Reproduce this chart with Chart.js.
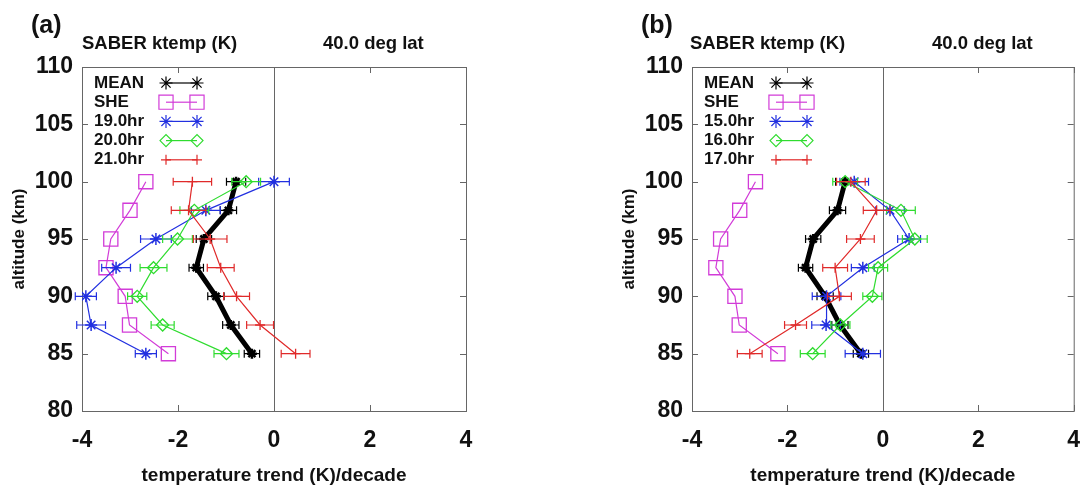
<!DOCTYPE html>
<html>
<head>
<meta charset="utf-8">
<script src="https://cdn.jsdelivr.net/npm/chart.js@4/dist/chart.umd.min.js"></script>
<style>
  body { margin: 0; background: #fff; }
  #wrap { position: relative; width: 1085px; height: 487px; overflow: hidden; font-family: "Liberation Sans", Arial, sans-serif; font-weight: bold; color: #111; }
  canvas { position: absolute; top: 0; }
  .lbl { position: absolute; white-space: nowrap; line-height: 1; }
</style>
</head>
<body>
<div id="wrap">
  <canvas id="chartA" width="540" height="487" style="left:0px"></canvas>
  <canvas id="chartB" width="475" height="487" style="left:610px"></canvas>
  <div class="lbl" style="left:31px;top:12px;font-size:25px">(a)</div>
  <div class="lbl" style="left:82px;top:34px;font-size:18.5px">SABER ktemp (K)</div>
  <div class="lbl" style="left:323px;top:34px;font-size:18.5px">40.0 deg lat</div>
  <div class="lbl" style="left:641px;top:12px;font-size:25px">(b)</div>
  <div class="lbl" style="left:690px;top:34px;font-size:18.5px">SABER ktemp (K)</div>
  <div class="lbl" style="left:932px;top:34px;font-size:18.5px">40.0 deg lat</div>
</div>
<script>
//============================== DATA ===========================
const altitudes = [85, 87.5, 90, 92.5, 95, 97.5, 100];
const yTicks = [80, 85, 90, 95, 100, 105, 110];
const xTicks = [-4, -2, 0, 2, 4];

const meanTrend = [-0.46, -0.90, -1.21, -1.62, -1.46, -0.95, -0.79];
const meanErr = [0.16, 0.17, 0.17, 0.15, 0.16, 0.17, 0.2];
const sheTrend = [-2.2, -3.01, -3.1, -3.5, -3.4, -3.0, -2.67];

// panel (a)
const hr19 = [-2.67, -3.81, -3.92, -3.29, -2.46, -1.42, 0.0];
const hr19Err = [0.22, 0.3, 0.22, 0.3, 0.32, 0.3, 0.32];
const hr20 = [-0.99, -2.32, -2.85, -2.51, -2.01, -1.66, -0.58];
const hr20Err = [0.26, 0.24, 0.2, 0.28, 0.31, 0.3, 0.3];
const hr21 = [0.45, -0.29, -0.78, -1.11, -1.33, -1.78, -1.70];
const hr21Err = [0.3, 0.28, 0.27, 0.28, 0.35, 0.36, 0.4];

// panel (b)
const hr15 = [-0.42, -1.19, -1.18, -0.42, 0.55, 0.15, -0.6];
const hr15Err = [0.37, 0.3, 0.3, 0.24, 0.24, 0.3, 0.3];
const hr16 = [-1.47, -0.89, -0.22, -0.10, 0.67, 0.38, -0.79];
const hr16Err = [0.26, 0.2, 0.2, 0.2, 0.26, 0.3, 0.26];
const hr17 = [-2.79, -1.83, -0.91, -1.0, -0.47, -0.13, -0.67];
const hr17Err = [0.26, 0.23, 0.25, 0.26, 0.29, 0.28, 0.3];

const MAGENTA = "#d23cd8";
const BLUE = "#2230e0";
const GREEN = "#2fdc2f";
const RED = "#e02a2a";
const FONT = "'Liberation Sans', Arial, sans-serif";

function pts(vals) {
    return vals.map((v, i) => ({ x: v, y: altitudes[i] }));
}

function makeSet(label, vals, err, color, style, radius, width, order, pbw) {
    return {
        label: label,
        data: pts(vals),
        errors: err,
        borderColor: color,
        backgroundColor: style == "rect" || style == "rectRot" ? "rgba(0,0,0,0)" : color,
        borderWidth: width,
        pointStyle: style,
        pointRadius: radius,
        pointBorderWidth: pbw || 1.3,
        pointBorderColor: color,
        showLine: true,
        tension: 0,
        order: order,
    };
}

//============================== PLUGINS ===========================
const errorBars = {
    id: "errorBars",
    afterDatasetDraw(chart, args) {
        const ds = chart.data.datasets[args.index];
        if (!ds.errors) return;
        const ctx = chart.ctx, xs = chart.scales.x, ys = chart.scales.y;
        ctx.save();
        ctx.strokeStyle = ds.borderColor;
        ctx.lineWidth = 1.2;
        ds.data.forEach((p, i) => {
            const y = ys.getPixelForValue(p.y);
            const x1 = xs.getPixelForValue(p.x - ds.errors[i]);
            const x2 = xs.getPixelForValue(p.x + ds.errors[i]);
            ctx.beginPath();
            ctx.moveTo(x1, y); ctx.lineTo(x2, y);
            ctx.moveTo(x1, y - 4); ctx.lineTo(x1, y + 4);
            ctx.moveTo(x2, y - 4); ctx.lineTo(x2, y + 4);
            ctx.stroke();
        });
        ctx.restore();
    }
};

const frame = {
    id: "frame",
    beforeDatasetsDraw(chart) {
        const ctx = chart.ctx, a = chart.chartArea;
        const xs = chart.scales.x, ys = chart.scales.y;
        ctx.save();
        ctx.strokeStyle = "#666";
        ctx.lineWidth = 1;
        ctx.strokeRect(a.left + 0.5, a.top + 0.5, a.right - a.left, a.bottom - a.top);
        ctx.beginPath();
        // zero line
        const x0 = Math.round(xs.getPixelForValue(0)) + 0.5;
        ctx.moveTo(x0, a.top); ctx.lineTo(x0, a.bottom);
        // inward ticks
        xTicks.forEach(v => {
            const x = Math.round(xs.getPixelForValue(v)) + 0.5;
            ctx.moveTo(x, a.bottom); ctx.lineTo(x, a.bottom - 6);
            ctx.moveTo(x, a.top); ctx.lineTo(x, a.top + 6);
        });
        yTicks.forEach(v => {
            const y = Math.round(ys.getPixelForValue(v)) + 0.5;
            ctx.moveTo(a.left, y); ctx.lineTo(a.left + 6, y);
            ctx.moveTo(a.right, y); ctx.lineTo(a.right - 6, y);
        });
        ctx.stroke();
        ctx.restore();
    },
    afterDraw(chart) {
        // gnuplot style key
        const ctx = chart.ctx, a = chart.chartArea;
        ctx.save();
        chart.data.datasets.forEach((ds, i) => {
            const y = a.top + 16 + i * 19.2;
            ctx.fillStyle = "#111";
            ctx.font = "bold 17px " + FONT;
            ctx.textBaseline = "middle";
            ctx.textAlign = "left";
            ctx.fillText(ds.label, a.left + 12, y);
            ctx.strokeStyle = ds.borderColor;
            ctx.lineWidth = 1.2;
            ctx.beginPath();
            ctx.moveTo(a.left + 84, y); ctx.lineTo(a.left + 115, y);
            ctx.stroke();
            const opts = {
                pointStyle: ds.pointStyle,
                radius: ds.pointStyle == "star" ? 6.5 : ds.pointRadius,
                rotation: 0,
                borderWidth: 1.2,
            };
            ctx.fillStyle = ds.backgroundColor;
            Chart.helpers.drawPoint(ctx, opts, a.left + 84, y);
            Chart.helpers.drawPoint(ctx, opts, a.left + 115, y);
        });
        ctx.restore();
    }
};

function getConfig(sets, rightPad) {
    return {
        type: "scatter",
        data: { datasets: sets },
        options: {
            responsive: false,
            animation: false,
            events: [],
            layout: { padding: { left: 0, right: rightPad, top: 67, bottom: 0 } },
            plugins: { legend: { display: false }, tooltip: { enabled: false } },
            scales: {
                x: {
                    type: "linear", min: -4, max: 4,
                    afterBuildTicks: s => { s.ticks = xTicks.map(v => ({ value: v })); },
                    afterFit: s => { s.height = 76; s.paddingLeft = 0; s.paddingRight = 0; },
                    grid: { display: false, drawTicks: false },
                    border: { display: false },
                    ticks: { color: "#111", padding: 16, font: { family: FONT, size: 23, weight: "bold" } },
                    title: { display: true, text: "temperature trend (K)/decade", color: "#111",
                             padding: { top: 0, bottom: 0 }, font: { family: FONT, size: 19, weight: "bold" } },
                },
                y: {
                    type: "linear", min: 80, max: 110,
                    afterBuildTicks: s => { s.ticks = yTicks.map(v => ({ value: v })); },
                    afterFit: s => { s.width = 82; s.paddingTop = 0; s.paddingBottom = 0; },
                    grid: { display: false, drawTicks: false },
                    border: { display: false },
                    ticks: { color: "#111", padding: 9, font: { family: FONT, size: 23, weight: "bold" } },
                    title: { display: true, text: "altitude (km)", color: "#111",
                             padding: { top: 9, bottom: 0 }, font: { family: FONT, size: 17, weight: "bold" } },
                },
            },
        },
        plugins: [frame, errorBars],
    };
}

const setsA = [
    makeSet("MEAN", meanTrend, meanErr, "#000", "star", 5, 5, 5, 2.5),
    makeSet("SHE", sheTrend, null, MAGENTA, "rect", 10, 1.2, 4, 1.3),
    makeSet("19.0hr", hr19, hr19Err, BLUE, "star", 6, 1.2, 3, 1.5),
    makeSet("20.0hr", hr20, hr20Err, GREEN, "rectRot", 6, 1.2, 2, 1.3),
    makeSet("21.0hr", hr21, hr21Err, RED, "cross", 5, 1.2, 1, 1.3),
];
const setsB = [
    makeSet("MEAN", meanTrend, meanErr, "#000", "star", 5, 5, 5, 2.5),
    makeSet("SHE", sheTrend, null, MAGENTA, "rect", 10, 1.2, 4, 1.3),
    makeSet("15.0hr", hr15, hr15Err, BLUE, "star", 6, 1.2, 3, 1.5),
    makeSet("16.0hr", hr16, hr16Err, GREEN, "rectRot", 6, 1.2, 2, 1.3),
    makeSet("17.0hr", hr17, hr17Err, RED, "cross", 5, 1.2, 1, 1.3),
];

const chartA = new Chart(document.getElementById("chartA").getContext("2d"), getConfig(setsA, 74));
const chartB = new Chart(document.getElementById("chartB").getContext("2d"), getConfig(setsB, 10));
</script>
</body>
</html>
